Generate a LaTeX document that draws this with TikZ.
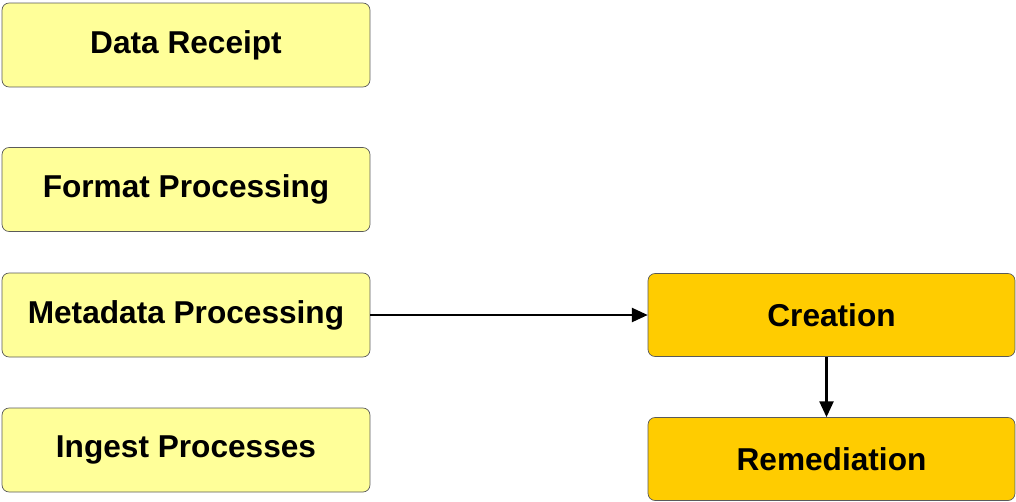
\documentclass[tikz,border=0pt]{standalone}
\usepackage{fontspec}
\setmainfont{Liberation Sans}
\usepackage{xcolor}
\usetikzlibrary{arrows.meta,positioning}
\definecolor{paleyel}{HTML}{FFFF99}
\definecolor{gold}{HTML}{FFCC00}
\definecolor{edge}{HTML}{5A5A5A}

\begin{document}
\begin{tikzpicture}[
    x=0.02cm, y=-0.02cm,
    proc/.style={rectangle, rounded corners=4pt, draw=edge, fill=paleyel,
                 font=\fontsize{18}{21}\selectfont\bfseries,
                 minimum width=7.36cm, minimum height=1.68cm, align=center},
    act/.style={proc, fill=gold, minimum width=7.34cm, minimum height=1.66cm},
    arr/.style={-{Triangle[length=9pt,width=8pt]}, line width=1.2pt}
  ]
  \useasboundingbox (0,0) rectangle (1016,501);
  \node[proc] (dr) at (186,45)    {Data Receipt};
  \node[proc] (fp) at (186,189.5) {Format Processing};
  \node[proc] (mp) at (186,315)   {Metadata Processing};
  \node[proc] (ip) at (186,450)   {Ingest Processes};
  \node[act]  (cr) at (831.5,315) {Creation};
  \node[act]  (rm) at (831.5,459) {Remediation};
  \draw[arr] (mp) -- (cr);
  \draw[arr] ([xshift=-0.1cm]cr.south) -- ([xshift=-0.1cm]rm.north);
\end{tikzpicture}
\end{document}
